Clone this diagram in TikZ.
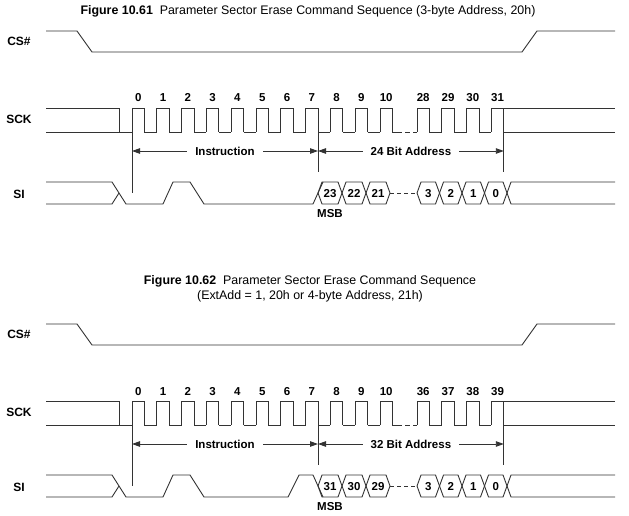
\documentclass[tikz,border=0pt]{standalone}
\usepackage{fontspec}
\setmainfont{Liberation Sans}
\usetikzlibrary{arrows.meta}

\begin{document}
\begin{tikzpicture}[x=1pt,y=-1pt,
  sig/.style={line width=0.9pt,black!80},
  guide/.style={line width=0.9pt,black!80},
  lbl/.style={font=\fontsize{12}{13}\selectfont\bfseries,inner sep=0pt},
  num/.style={font=\fontsize{11.5}{13}\selectfont\bfseries,inner sep=0pt,anchor=base},
  bit/.style={font=\fontsize{11.5}{12}\selectfont\bfseries,inner sep=0pt,anchor=base},
  span/.style={{Triangle[length=8pt,width=5.5pt]}-{Triangle[length=8pt,width=5.5pt]},
    line width=0.9pt,black!80},
  spantxt/.style={font=\fontsize{11.5}{13}\selectfont\bfseries,fill=white,
    inner xsep=8pt,inner ysep=1pt,text=black},
  ttl/.style={font=\fontsize{12.4}{15}\selectfont,align=center,inner sep=0pt},
]
\useasboundingbox (0,0) rectangle (629,516);

% Titles
\node[ttl] (title1) at (308,11)
  {\textbf{Figure 10.61}\ \ Parameter Sector Erase Command Sequence (3-byte Address, 20h)};
\node[ttl] (title2) at (310,289)
  {\textbf{Figure 10.62}\ \ Parameter Sector Erase Command Sequence\\
   (ExtAdd = 1, 20h or 4-byte Address, 21h)};

\foreach \f/\dy/\n/\t in {1/0/28/23, 2/293/36/31} {
\begin{scope}[shift={(0,\dy)}]

% CS#
\node[lbl] (cs\f) at (19,41) {CS\#};
\draw[sig] (46,31) -- (77,31) -- (92,52) -- (522,52) -- (537,31) -- (615,31);

% SCK
\node[lbl] (sck\f) at (19,119) {SCK};
\draw[sig] (46,108) -- (119,108) -- (119,132);
\draw[sig] (46,132) -- (132,132);
\foreach \k in {0,...,10} {
  \draw[sig] ({132+24.8*\k},132) -- ++(0,-24) -- ++(12.4,0) -- ++(0,24);
  \ifnum\k<10
    \draw[sig] ({144.4+24.8*\k},132) -- ++(12.4,0);
  \fi
  \node[num] (clk\f-\k) at ({138.2+24.8*\k},102) {\k};
}
\draw[sig] (392.4,132) -- (397,132);
\draw[sig,dash pattern=on 5pt off 3pt] (397,132) -- (417,132);
\foreach \j in {0,...,3} {
  \pgfmathtruncatemacro{\lab}{\n+\j}
  \draw[sig] ({417+24.8*\j},132) -- ++(0,-24) -- ++(12.4,0) -- ++(0,24);
  \ifnum\j<3
    \draw[sig] ({429.4+24.8*\j},132) -- ++(12.4,0);
  \fi
  \node[num] (clk\f-\lab) at ({423.2+24.8*\j},102) {\lab};
}
\draw[sig] (503.8,108) -- (615,108);
\draw[sig] (503.8,132) -- (615,132);

% markers and spans
\coordinate (m\f a) at (132,108);
\coordinate (m\f b) at (318,132);
\coordinate (m\f c) at (503.8,132);
\draw[guide] (m\f a) -- (132,193);
\draw[guide] (m\f b) -- (318,172);
\draw[guide] (m\f c) -- (503.8,172);
\coordinate (s\f a) at (132,151);
\coordinate (s\f b) at (318,151);
\coordinate (s\f c) at (503.8,151);
\pgfmathtruncatemacro{\nbits}{\t+1}
\draw[span] (s\f a) -- (s\f b) node[spantxt,midway] (ins\f) {Instruction};
\draw[span] (s\f b) -- (s\f c) node[spantxt,midway] (adr\f) {\nbits\ Bit Address};

% SI
\node[lbl] (si\f) at (19,194) {SI};
\draw[sig] (46,204) -- (112,204) -- (119,193);
\ifnum\f=1
  \draw[sig] (46,182) -- (112,182) -- (126,204) -- (163,204) -- (173,182)
    -- (190,182) -- (204,204) -- (313,204) -- (323,182);
\else
  \draw[sig] (46,182) -- (112,182) -- (126,204) -- (163,204) -- (173,182)
    -- (190,182) -- (204,204) -- (288,204) -- (299,182) -- (313,182) -- (323,204);
\fi
\foreach \a/\b/\d in {318/342/0, 342/366/1, 366/390/2} {
  \pgfmathtruncatemacro{\v}{\t-\d}
  \draw[sig] (\a,193) -- (\a+4,182) -- (\b-4,182) -- (\b,193) -- (\b-4,204)
    -- (\a+4,204) -- cycle;
  \node[bit] (hx\f-\v) at ({(\a+\b)/2},197.5) {\v};
}
\draw[sig,dash pattern=on 4pt off 3pt] (390,193) -- (417,193);
\foreach \a/\b/\v in {417/439.5/3, 439.5/462/2, 462/484.5/1, 484.5/507/0} {
  \draw[sig] (\a,193) -- (\a+4,182) -- (\b-4,182) -- (\b,193) -- (\b-4,204)
    -- (\a+4,204) -- cycle;
  \node[bit] (lo\f-\v) at ({(\a+\b)/2},197.5) {\v};
}
\draw[sig] (507,193) -- (511,182) -- (615,182);
\draw[sig] (507,193) -- (511,204) -- (615,204);
\node[bit] (msb\f) at (330,217) {MSB};

\end{scope}
}

\end{tikzpicture}
\end{document}
